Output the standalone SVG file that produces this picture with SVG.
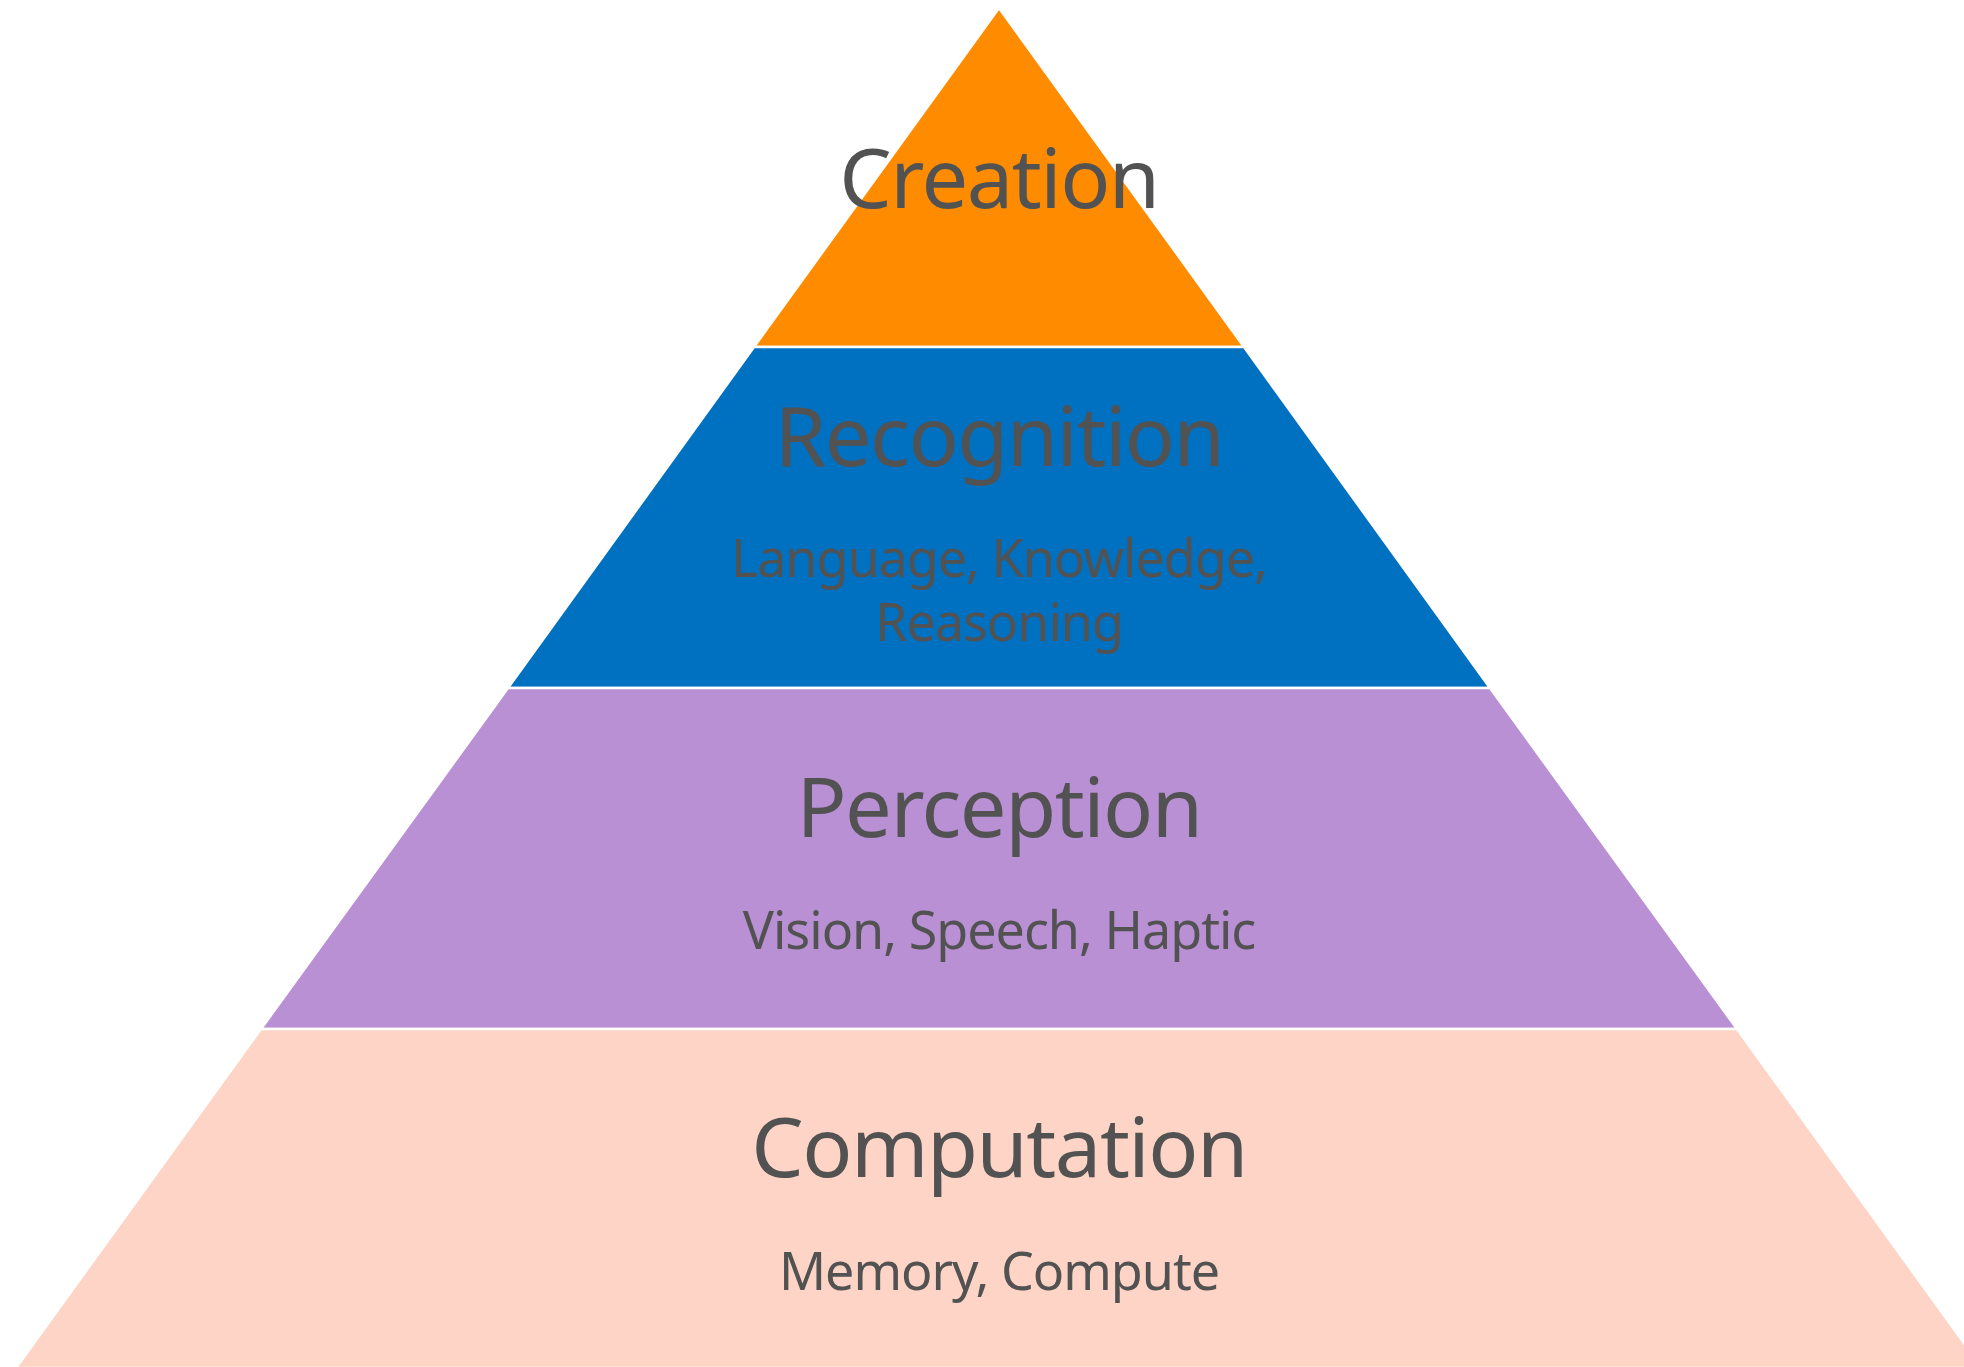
<svg xmlns="http://www.w3.org/2000/svg" width="1964" height="1367" viewBox="0 0 1964 1367">
<style>
.lvl{stroke:#ffffff;stroke-width:2.5;stroke-linejoin:miter}
.t{font-family:"Noto Sans","Open Sans","DejaVu Sans",sans-serif;fill:#525252;text-anchor:middle}
.h{font-size:83px;letter-spacing:-1.5px}
.s{font-size:52px;letter-spacing:-1px}
</style>
<rect width="1964" height="1367" fill="#ffffff"/>
<g id="creation">
<polygon class="lvl" fill="#FF8C00" points="999,8 1244,347 754,347"/>
<text class="t h" x="999" y="208">Creation</text>
</g>
<g id="recognition">
<polygon class="lvl" fill="#0070C0" points="754,347 1244,347 1490,688 508,688"/>
<text class="t h" x="999" y="466">Recognition</text>
<text class="t s" x="999" y="577">Language, Knowledge,</text>
<text class="t s" x="999" y="641">Reasoning</text>
</g>
<g id="perception">
<polygon class="lvl" fill="#B990D4" points="508,688 1490,688 1737,1029 261,1029"/>
<text class="t h" x="999" y="837">Perception</text>
<text class="t s" x="999" y="949">Vision, Speech, Haptic</text>
</g>
<g id="computation">
<polygon class="lvl" fill="#FDD4C5" points="261,1029 1737,1029 1982,1368 16,1368"/>
<text class="t h" x="999" y="1177">Computation</text>
<text class="t s" x="999" y="1290">Memory, Compute</text>
</g>
<g id="connectors"></g>
</svg>
